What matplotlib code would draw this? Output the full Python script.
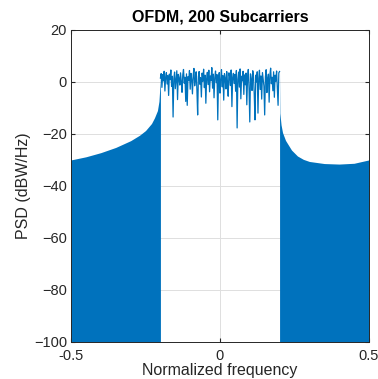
import matplotlib
matplotlib.use('Agg')
import matplotlib.pyplot as plt
import numpy as np

plt.rcParams['font.family'] = ['Liberation Sans', 'DejaVu Sans']

# in-band PSD (dBW/Hz), 161 bins from -0.2 to 0.2
inband_db = [
    1.5, 3.2, -2.1, 2.8, 0.4, 4.1, -3.5, 1.9, 3.6, -0.8,
    2.4, -5.2, 3.0, 0.9, 4.6, -1.7, 2.2, -13.5, 1.2, 3.8,
    -2.6, 0.7, 4.3, -6.8, 2.9, 1.4, -1.2, 3.5, 0.2, -4.0,
    2.7, 4.8, -0.5, 1.8, -7.5, 3.1, -9.0, 2.0, 0.6, 4.4,
    -2.8, 3.3, 1.0, -4.6, 2.5, 5.2, -1.5, 0.8, 3.9, -3.1,
    -12.7, 2.1, 4.0, -0.9, 1.6, -5.8, 3.4, 0.3, 4.9, -2.2,
    2.6, -8.2, 1.1, 3.7, -1.0, 4.5, -3.8, 2.3, 0.5, 5.5,
    -2.4, 3.0, -6.1, 1.7, 4.2, -0.3, 2.8, -14.6, 1.3, 3.6,
    -4.3, 0.9, 4.7, -1.9, 2.4, -7.0, 3.2, 1.5, -2.7, 4.0,
    0.1, -5.5, 3.5, 2.0, -1.4, 4.6, -9.5, 1.8, 3.3, -0.6,
    2.9, -3.6, 4.4, -17.7, 1.0, 3.8, -2.0, 5.0, -6.5, 2.2,
    0.4, 4.1, -4.8, 2.7, -1.1, 3.4, -8.8, 1.6, 4.8, -2.5,
    -15.4, 3.1, 0.7, -3.3, 4.3, 1.9, -5.0, -14.6, 2.6, 0.0,
    3.9, -12.0, 1.4, 4.5, -2.9, 2.3, -6.6, 3.6, 0.8, -1.6,
    -12.7, 2.0, 4.7, -4.1, 1.2, 3.0, -7.8, 2.5, 5.3, -0.7,
    1.8, -3.4, 3.9, -5.9, 2.6, 0.3, 4.2, -2.3, -9.0, 3.5,
    4.0,
]
inband_f = np.linspace(-0.2, 0.2, len(inband_db))

# sideband envelopes (the sidebands oscillate down to the floor -> solid fill)
left_f = [-0.5, -0.45, -0.4, -0.35, -0.3, -0.27, -0.25, -0.23, -0.22, -0.21, -0.205, -0.2]
left_db = [-30, -28.8, -27.2, -25.2, -22.6, -20.5, -18.7, -16, -13.8, -11, -7.5, 1.5]
right_f = [0.2, 0.201, 0.205, 0.21, 0.22, 0.24, 0.26, 0.28, 0.3, 0.35, 0.4, 0.45, 0.5]
right_db = [4.0, -12, -16.5, -19.5, -22.5, -26.2, -28.5, -29.8, -30.6, -31.4, -31.6, -31.3, -30]

blue = '#0072BD'
dark = '#262626'

fig = plt.figure(figsize=(3.78, 3.79), dpi=100)
ax = fig.add_axes([0.188, 0.098, 0.788, 0.823])

ax.fill_between(left_f, -100, left_db, color=blue, lw=0)
ax.fill_between(right_f, -100, right_db, color=blue, lw=0)
ax.plot(inband_f, inband_db, color=blue, lw=0.9)

ax.set_xlim(-0.5, 0.5)
ax.set_ylim(-100, 20)
ax.set_xticks([-0.5, 0, 0.5])
ax.set_xticklabels(['-0.5', '0', '0.5'])
ax.set_yticks(range(-100, 21, 20))
ax.grid(True, color='#dedede', lw=0.7)
ax.set_axisbelow(True)
ax.tick_params(direction='in', length=3, top=True, right=True,
               labelsize=10.5, colors=dark, pad=3)
ax.tick_params(axis='x', pad=5)
for s in ax.spines.values():
    s.set_color(dark)
    s.set_linewidth(0.7)

ax.set_xlabel('Normalized frequency', fontsize=11.5, color=dark, labelpad=0)
ax.set_ylabel('PSD (dBW/Hz)', fontsize=11.5, color=dark, labelpad=2)
ax.set_title('OFDM, 200 Subcarriers', fontsize=11.5, fontweight='bold', color='black', pad=6)

plt.savefig('out.png', dpi=100)
